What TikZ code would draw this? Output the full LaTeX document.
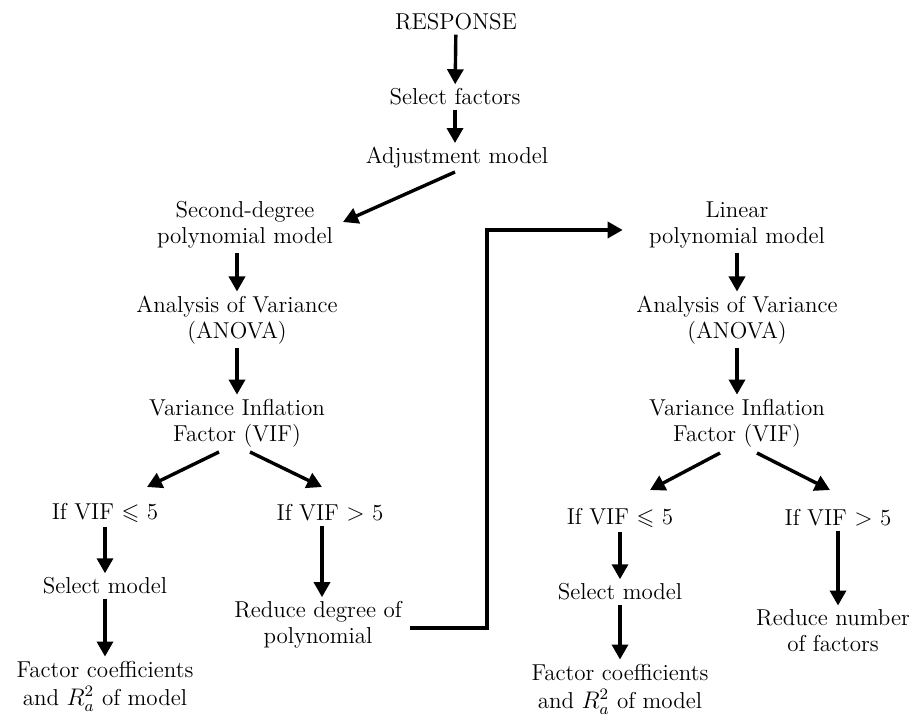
\documentclass[tikz,border=0pt]{standalone}
\usepackage{amssymb}
\usetikzlibrary{arrows.meta,calc}
\begin{document}
\begin{tikzpicture}[x=0.5pt,y=-0.5pt,
  lbl/.style={align=center,inner sep=2pt,font=\fontsize{11.5}{13}\selectfont},
  line/.style={line width=1.7pt},
  arr/.style={line,-{Triangle[length=7.5pt,width=8pt]}}]
\useasboundingbox (0,0) rectangle (917,716);
% nodes
\node[lbl] (resp) at (456,22) {RESPONSE};
\node[lbl] (sel) at (455,97) {Select factors};
\node[lbl] (adj) at (457,158) {Adjustment model};
\node[lbl] (sec) at (245,225) {Second-degree\\polynomial model};
\node[lbl] (anL) at (237,320) {Analysis of Variance\\(ANOVA)};
\node[lbl] (vifL) at (237,423) {Variance Inflation\\Factor (VIF)};
\node[lbl] (leL) at (105,513) {If VIF $\leqslant$ 5};
\node[lbl] (gtL) at (330,513) {If VIF $>$ 5};
\node[lbl] (smL) at (105,586) {Select model};
\node[lbl] (fcL) at (105,686) {Factor coefficients\\[1pt]and $R_a^2$ of model};
\node[lbl] (red) at (318,625) {Reduce degree of\\polynomial};
\node[lbl] (lin) at (737,225) {Linear\\polynomial model};
\node[lbl] (anR) at (737,320) {Analysis of Variance\\(ANOVA)};
\node[lbl] (vifR) at (737,423) {Variance Inflation\\Factor (VIF)};
\node[lbl] (leR) at (620,518) {If VIF $\leqslant$ 5};
\node[lbl] (gtR) at (838,518) {If VIF $>$ 5};
\node[lbl] (smR) at (620,592) {Select model};
\node[lbl] (fcR) at (620,689) {Factor coefficients\\[1pt]and $R_a^2$ of model};
\node[lbl] (nf) at (833,631) {Reduce number\\of factors};
\coordinate (elb) at (487,230);
\coordinate (gdown) at ($(gtL.south)+(-8,0)$);
% connectors
\draw[arr] (resp) -- (sel);
\draw[arr] (sel.south) -- (sel.south |- adj.north);
\draw[arr] ($(adj)+(-2,14)$) -- ($(sec)+(98,-3)$);
\draw[arr] (anL |- sec.south) -- (anL.north);
\draw[arr] (anL) -- (vifL);
\draw[arr] ($(vifL)+(-18,29)$) -- ($(leL)+(42,-26)$);
\draw[arr] ($(vifL)+(13,29)$) -- ($(gtL)+(-8,-26)$);
\draw[arr] (leL) -- (smL);
\draw[arr] (smL) -- (fcL);
\draw[arr] (gdown) -- (gdown |- red.north);
\draw[arr,shorten >=11pt] ($(red.east)+(4,3)$) -| (elb) -- (elb -| lin.west);
\draw[arr] (lin) -- (anR);
\draw[arr] (anR) -- (vifR);
\draw[arr] ($(vifR)+(-17,30)$) -- ($(leR)+(30,-28)$);
\draw[arr] ($(vifR)+(20,30)$) -- ($(gtR)+(-8,-28)$);
\draw[arr] (leR) -- (smR);
\draw[arr] (smR) -- (fcR);
\draw[arr] (gtR.south) -- (gtR.south |- nf.north);
\end{tikzpicture}
\end{document}
